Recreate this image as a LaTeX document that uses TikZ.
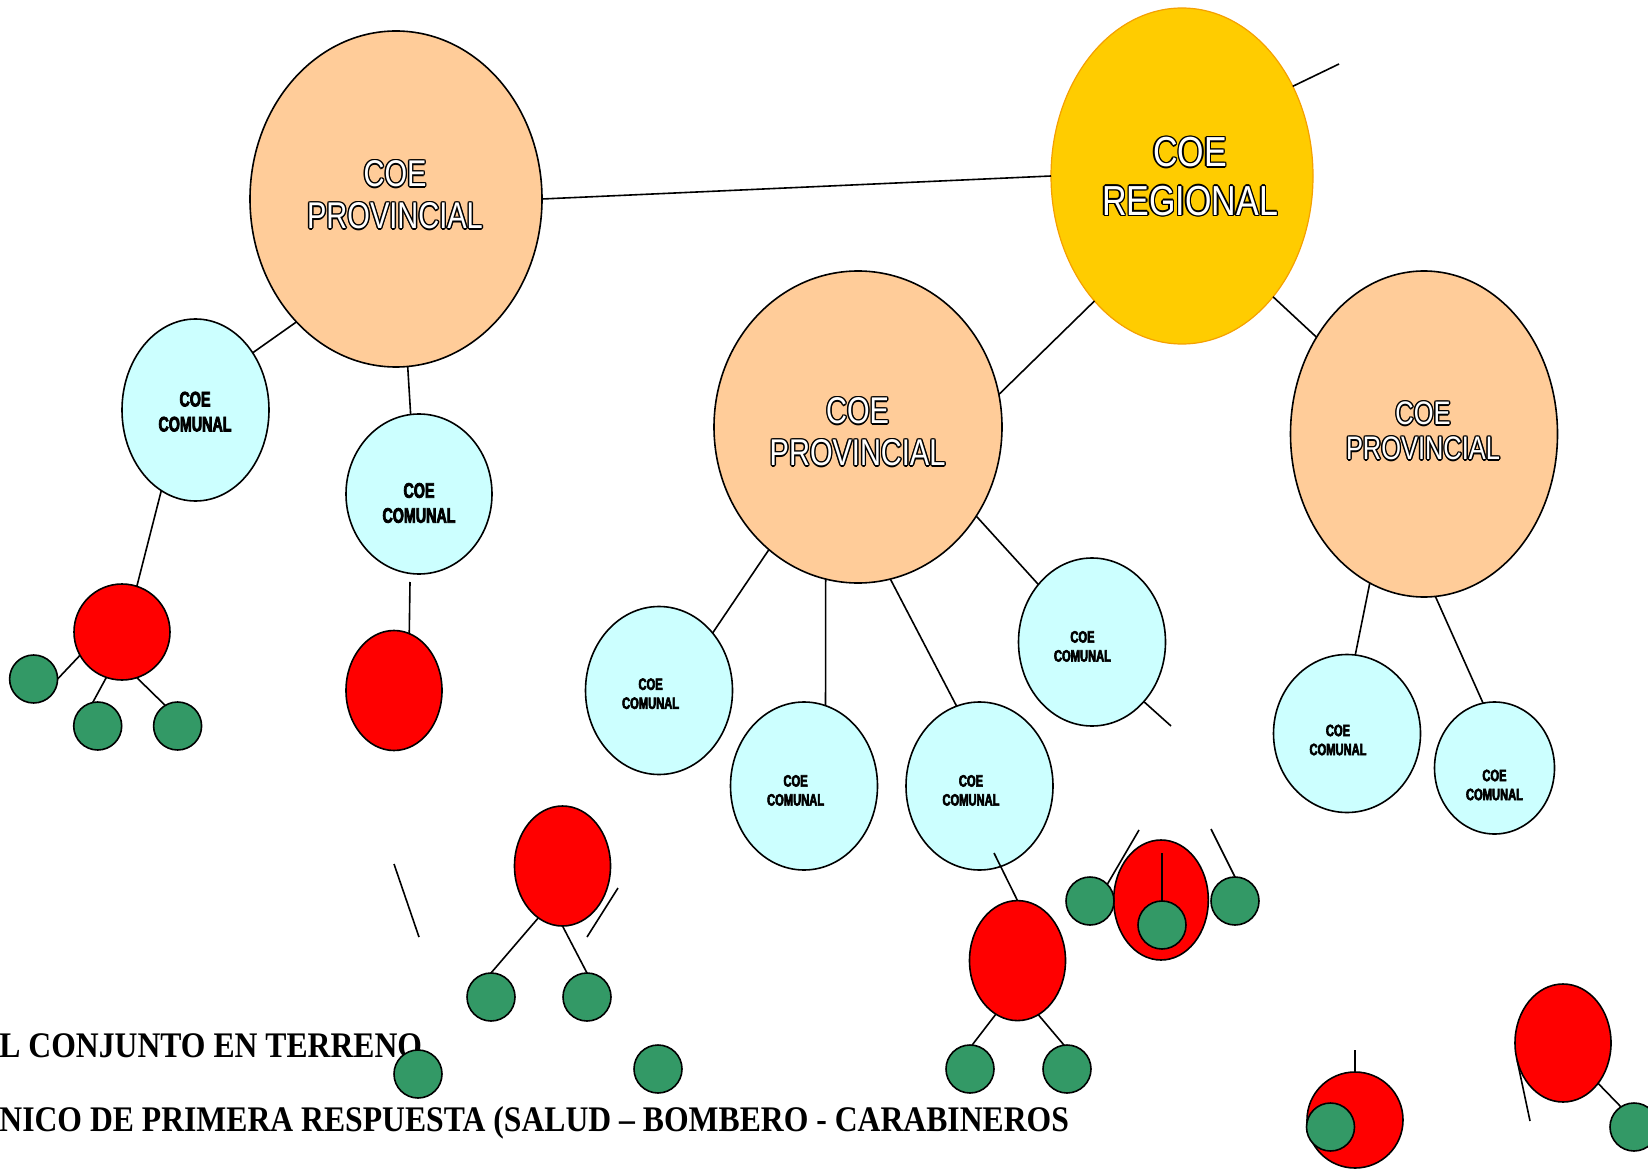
\documentclass[tikz,border=0pt]{standalone}
\usepackage{fontspec}
\setmainfont{Liberation Serif}
\newfontfamily\footfont[FakeStretch=0.88]{Liberation Serif}
\newfontfamily\provfont[FakeStretch=0.78]{Liberation Sans}
\newfontfamily\regfont[FakeStretch=0.81]{Liberation Sans}
\newfontfamily\comfont[FakeStretch=0.68,FakeBold=3.5]{Liberation Sans Bold}
\usetikzlibrary{shapes.geometric}
\definecolor{provfill}{HTML}{FFCC99}
\definecolor{comfill}{HTML}{CCFFFF}
\definecolor{regfill}{HTML}{FFCC00}
\definecolor{regline}{HTML}{F5A000}
\definecolor{grnfill}{HTML}{339966}
\definecolor{redfill}{HTML}{FF0000}
\newcommand\olsh[3]{\makebox[0pt][l]{\hspace*{#1}\raisebox{#2}{\color{black}#3}}}
\newcommand\outl[1]{\olsh{0.7pt}{0pt}{#1}\olsh{-0.7pt}{0pt}{#1}\olsh{0pt}{0.7pt}{#1}\olsh{0pt}{-0.7pt}{#1}\olsh{0.5pt}{0.5pt}{#1}\olsh{-0.5pt}{0.5pt}{#1}\olsh{0.5pt}{-0.5pt}{#1}\olsh{-0.5pt}{-0.5pt}{#1}{\color{white}#1}}
\begin{document}
\begin{tikzpicture}[x=0.5pt,y=-0.5pt,
  lk/.style={line width=0.8pt},
  bub/.style={ellipse, draw=black, line width=0.8pt, inner sep=0pt, outer sep=0pt},
  provb/.style={bub, fill=provfill},
  comb/.style={bub, fill=comfill},
  redb/.style={bub, fill=redfill},
  grnb/.style={circle, draw=black, line width=0.8pt, fill=grnfill, inner sep=0pt, outer sep=0pt, minimum size=24pt},
  regb/.style={ellipse, draw=regline, line width=0.6pt, fill=regfill, inner sep=0pt, outer sep=0pt},
  provt/.style={inner sep=0pt, align=center, font=\provfont\fontsize{18.6}{20.9}\selectfont},
  provts/.style={inner sep=0pt, align=center, font=\provfont\fontsize{16.3}{17.5}\selectfont},
  regt/.style={inner sep=0pt, align=center, font=\regfont\fontsize{21}{24.2}\selectfont},
  comt/.style={inner sep=0pt, align=center, font=\comfont\fontsize{8.2}{9.5}\selectfont},
  comtl/.style={inner sep=0pt, align=center, font=\comfont\fontsize{10.5}{12.5}\selectfont},
  foot/.style={anchor=base west, inner sep=0pt, font=\footfont\bfseries\fontsize{18}{18}\selectfont}
]
\useasboundingbox (0,0) rectangle (1648,1171);
\fill[white] (0,0) rectangle (1648,1171);

% footer texts
\node[foot] (t1) at (-1,1057) {L CONJUNTO EN TERRENO};
\node[foot] (t2) at (-1,1131) {NICO DE PRIMERA RESPUESTA (SALUD – BOMBERO - CARABINEROS};

% main bubbles
\node[provb, minimum width=146pt, minimum height=168pt] (lp) at (396,199) {};
\node[regb, minimum width=131pt, minimum height=168pt] (reg) at (1182,176) {};
\node[provb, minimum width=144pt, minimum height=156pt] (mp) at (858,427) {};
\node[provb, minimum width=133.5pt, minimum height=163pt] (rp) at (1424,434) {};

% comunal bubbles
\node[comb, minimum width=73.5pt, minimum height=91pt] (c1) at (195.5,410) {};
\node[comb, minimum width=73pt, minimum height=80pt] (c2) at (419,494) {};
\node[comb, minimum width=73.5pt, minimum height=84pt] (m1) at (659,690.5) {};
\node[comb, minimum width=73.5pt, minimum height=84pt] (m2) at (804,786) {};
\node[comb, minimum width=73.5pt, minimum height=84pt] (m3) at (979.5,786) {};
\node[comb, minimum width=73.5pt, minimum height=84pt] (m4) at (1092,642) {};
\node[comb, minimum width=73.5pt, minimum height=79pt] (r1) at (1347,733.5) {};
\node[comb, minimum width=60pt, minimum height=66pt] (r2) at (1494.5,768) {};

% red bubbles
\node[redb, minimum width=48pt, minimum height=48pt] (red1) at (122,632) {};
\node[redb, minimum width=48pt, minimum height=60pt] (red2) at (394,690.5) {};
\node[redb, minimum width=48pt, minimum height=60pt] (red4) at (562.5,866) {};
\node[redb, minimum width=48pt, minimum height=60pt] (red3) at (1017.5,960.6) {};
\node[redb, minimum width=47.3pt, minimum height=60pt] (red5) at (1161,900) {};
\node[redb, minimum width=48pt, minimum height=48pt] (red6) at (1355,1120) {};
\node[redb, minimum width=48pt, minimum height=59pt] (red7) at (1563,1043) {};

% green bubbles
\node[grnb] (g1a) at (33.6,679) {};
\node[grnb] (g1b) at (97.7,726) {};
\node[grnb] (g1c) at (177.6,726) {};
\node[grnb] (g4a) at (491,997) {};
\node[grnb] (g4b) at (587,997) {};
\node[grnb] (gl1) at (418,1074) {};
\node[grnb] (gl2) at (658,1069) {};
\node[grnb] (g3a) at (970,1069) {};
\node[grnb] (g3b) at (1067,1069) {};
\node[grnb] (g5in) at (1162,925) {};
\node[grnb] (g5L) at (1090,901) {};
\node[grnb] (g5R) at (1235,901) {};
\node[grnb] (g6) at (1330.5,1127) {};
\node[grnb] (g7) at (1634,1127) {};

% free coordinates
\coordinate (f1) at (1339,64);
\coordinate (f2) at (1171,726);
\coordinate (c2b) at (410,582);
\coordinate (m3in) at (994,853);
\coordinate (f3a) at (394,864);
\coordinate (f3b) at (419,937);
\coordinate (f4a) at (618,888);
\coordinate (f4b) at (587,937);
\coordinate (f5) at (1139,830);
\coordinate (f6) at (1211,829);
\coordinate (r5in) at (1162,853);
\coordinate (f7) at (1355,1050);
\coordinate (f8) at (1530,1121);

% connectors
\draw[lk] (lp.east) -- (reg.west);
\draw[lk] (reg.39) -- (f1);
\draw[lk] (reg.235) -- (mp.13.6);
\draw[lk] (reg.307.8) -- (rp.138.6);
\draw[lk] (lp.231.3) -- (c1.45.8);
\draw[lk] (lp.274.8) -- (c2.96.5);
\draw[lk] (c1.247) -- (red1.72.2);
\draw[lk] (red1.209.7) -- (g1a.0);
\draw[lk] (red1.251.9) -- (g1b.102);
\draw[lk] (red1.288.8) -- (g1c.121);
\draw[lk] (c2b) -- (red2.75);
\draw[lk] (mp.234) -- (m1.47.1);
\draw[lk] (mp.258.3) -- (m2.75.3);
\draw[lk] (mp.282) -- (m3.106.9);
\draw[lk] (mp.323.4) -- (m4.133.5);
\draw[lk] (m4.311.8) -- (f2);
\draw[lk] (rp.250.1) -- (r1.84.2);
\draw[lk] (rp.274.5) -- (r2.100.7);
\draw[lk] (m3in) -- (red3.north);
\draw[lk] (red3.248.6) -- (g3a.85);
\draw[lk] (red3.291) -- (g3b.97.6);
\draw[lk] (red4.245.7) -- (g4a.north);
\draw[lk] (red4.south) -- (g4b.north);
\draw[lk] (f3a) -- (f3b);
\draw[lk] (f4a) -- (f4b);
\draw[lk] (g5L.44) -- (f5);
\draw[lk] (g5R.north) -- (f6);
\draw[lk] (r5in) -- (g5in.north);
\draw[lk] (f7) -- (red6.north);
\draw[lk] (red7.201) -- (f8);
\draw[lk] (red7.311) -- (g7.123.7);

% texts
\node[provt] (lpt) at (395,195) {\outl{COE}\\\outl{PROVINCIAL}};
\node[provt] (mpt) at (857.6,432) {\outl{COE}\\\outl{PROVINCIAL}};
\node[provts] (rpt) at (1423,431) {\outl{COE}\\\outl{PROVINCIAL}};
\node[regt] (regtx) at (1190,176.5) {\outl{COE}\\\outl{REGIONAL}};
\node[comtl] (c1t) at (195,411.7) {COE\\COMUNAL};
\node[comtl] (c2t) at (419,503) {COE\\COMUNAL};
\node[comt] (m1t) at (650.6,693.7) {COE\\COMUNAL};
\node[comt] (m2t) at (795.6,790.4) {COE\\COMUNAL};
\node[comt] (m3t) at (971,790.4) {COE\\COMUNAL};
\node[comt] (m4t) at (1082.5,646.4) {COE\\COMUNAL};
\node[comt] (r1t) at (1338,740) {COE\\COMUNAL};
\node[comt] (r2t) at (1494.5,785) {COE\\COMUNAL};
\end{tikzpicture}
\end{document}
